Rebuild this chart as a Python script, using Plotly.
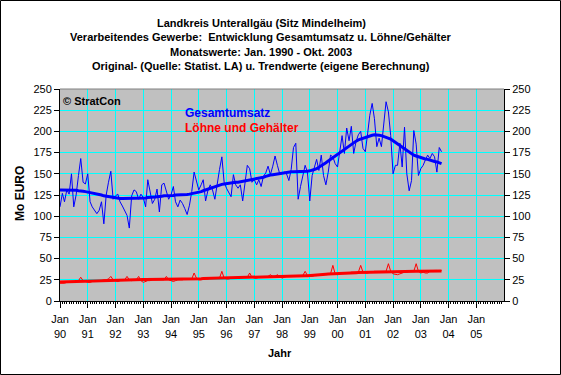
import pandas as pd
import plotly.graph_objects as go

# ---------------- data (Jan 1990 - Oct 2003, monthly) ----------------
start_month = "1990-01-01"

umsatz = [
    # 1990
    111, 127, 117, 131, 126, 150, 111, 125, 148, 168, 140, 138,
    # 1991
    150, 117, 111, 107, 103, 107, 117, 91, 125, 140, 153, 120,
    # 1992
    124, 126, 117, 112, 107, 101, 86, 124, 131, 129, 120, 126,
    # 1993
    122, 111, 143, 126, 115, 120, 132, 105, 137, 139, 129, 120,
    # 1994
    125, 135, 117, 111, 119, 115, 109, 102, 113, 129, 152, 141,
    # 1995
    131, 137, 143, 118, 130, 137, 131, 120, 140, 155, 170, 140,
    # 1996
    133, 128, 123, 149, 137, 133, 137, 118, 140, 160, 156, 140,
    # 1997
    143, 137, 143, 135, 147, 151, 159, 149, 159, 171, 160, 150,
    # 1998
    150, 152, 150, 142, 155, 181, 186, 120, 135, 146, 160, 152,
    # 1999
    118, 148, 157, 167, 154, 172, 148, 137, 152, 172, 170, 162,
    # 2000
    158, 180, 195, 174, 204, 189, 206, 174, 188, 196, 200, 180,
    # 2001
    176, 198, 219, 233, 215, 182, 192, 182, 209, 235, 223, 195,
    # 2002
    150, 160, 160, 186, 158, 205, 150, 130, 142, 201, 185, 148,
    # 2003
    156, 160, 166, 172, 168, 174, 170, 152, 181, 176,
]

umsatz_trend = [
    131, 131, 131, 131, 131, 131, 131, 130.5, 130, 130, 129.5, 129,
    128.5, 128, 127, 126.5, 126, 125.5, 125, 124, 123.5, 123, 122.5, 122,
    121.5, 121.5, 121, 121, 121, 121, 121, 121, 121, 121, 121, 121,
    121.5, 121.5, 122, 122, 122.5, 122.5, 123, 123, 123.5, 124, 124, 124.5,
    124.5, 124.5, 125, 125, 125, 125, 125, 125.5, 126, 126.5, 127, 127.5,
    128, 129, 130, 131, 132, 133, 134, 135, 136, 137, 137.5, 138,
    138.5, 139, 139, 139.5, 140, 140, 140.5, 141, 141.5, 142, 142.5, 143,
    143.5, 144, 145, 145.5, 146, 147, 148, 148.5, 149, 149.5, 150, 150.5,
    151, 151.5, 152, 152, 152.5, 152.5, 152.5, 152.5, 152.5, 152.5, 153, 153,
    153.5, 154, 155, 156, 157.5, 159, 161, 163, 165, 167, 169, 171,
    173, 175, 177, 179, 181, 183, 185, 187, 188.5, 190, 191, 192,
    193, 194, 195, 195.5, 196, 196, 195.5, 195, 194, 193, 192, 191,
    189, 187, 185, 183, 181, 179, 177, 175, 173, 172, 171, 170,
    169, 168, 167.5, 167, 166, 165, 164.5, 164, 163, 162,
]

loehne = [
    21, 21, 21, 22, 22, 23, 22, 23, 24, 28, 24, 23,
    22, 22, 23, 23, 24, 24, 24, 25, 25, 26, 29, 25,
    24, 23, 24, 25, 25, 29, 25, 24, 25, 25, 29, 24,
    22, 23, 24, 24, 25, 25, 25, 25, 25, 25, 29, 25,
    24, 23, 24, 25, 25, 25, 26, 26, 26, 26, 33, 27,
    25, 25, 26, 26, 26, 27, 27, 27, 27, 27, 35, 27,
    26, 26, 27, 27, 27, 28, 28, 28, 28, 28, 33, 28,
    27, 27, 28, 28, 28, 28, 29, 31, 29, 29, 31, 29,
    27, 28, 29, 29, 29, 29, 30, 30, 30, 30, 35, 30,
    29, 29, 30, 30, 31, 31, 31, 32, 32, 32, 42, 32,
    31, 32, 33, 33, 33, 33, 34, 34, 34, 34, 42, 34,
    33, 33, 34, 34, 35, 35, 35, 35, 35, 35, 44, 35,
    32, 31, 31, 32, 33, 34, 34, 35, 35, 35, 44, 35,
    33, 34, 33, 33, 35, 35, 36, 36, 35, 36,
]

loehne_trend = [
    22.4, 22.5, 22.6, 22.7, 22.8, 22.9, 23.0, 23.1, 23.2, 23.3, 23.4, 23.5,
    23.6, 23.7, 23.8, 23.9, 24.0, 24.2, 24.4, 24.5, 24.7, 24.8, 25.0, 25.1,
    25.2, 25.2, 25.3, 25.3, 25.3, 25.4, 25.4, 25.4, 25.5, 25.5, 25.5, 25.5,
    25.5, 25.5, 25.5, 25.5, 25.5, 25.5, 25.5, 25.5, 25.5, 25.5, 25.6, 25.6,
    25.6, 25.6, 25.6, 25.7, 25.7, 25.8, 25.8, 25.9, 25.9, 26.0, 26.0, 26.1,
    26.2, 26.3, 26.4, 26.5, 26.6, 26.7, 26.8, 26.9, 27.0, 27.1, 27.2, 27.4,
    27.6, 27.6, 27.7, 27.7, 27.8, 27.8, 27.9, 27.9, 28.0, 28.0, 28.1, 28.2,
    28.3, 28.3, 28.4, 28.4, 28.5, 28.5, 28.6, 28.6, 28.7, 28.8, 28.8, 28.9,
    29.0, 29.1, 29.2, 29.3, 29.4, 29.5, 29.5, 29.6, 29.7, 29.8, 29.9, 29.9,
    30.0, 30.2, 30.4, 30.6, 30.8, 31.0, 31.3, 31.5, 31.7, 31.9, 32.2, 32.4,
    32.6, 32.7, 32.8, 32.9, 33.0, 33.1, 33.2, 33.3, 33.4, 33.5, 33.6, 33.7,
    33.8, 33.9, 34.0, 34.1, 34.2, 34.3, 34.4, 34.5, 34.6, 34.7, 34.8, 34.9,
    35.0, 35.0, 35.0, 35.0, 35.0, 35.0, 35.0, 35.0, 35.0, 35.0, 35.1, 35.1,
    35.1, 35.2, 35.2, 35.2, 35.3, 35.3, 35.3, 35.4, 35.4, 35.4,
]

y_ticks = [0, 25, 50, 75, 100, 125, 150, 175, 200, 225, 250]

title_lines = [
    "Landkreis Unterallgäu (Sitz Mindelheim)",
    "Verarbeitendes Gewerbe:  Entwicklung Gesamtumsatz u. Löhne/Gehälter",
    "Monatswerte: Jan. 1990 - Okt. 2003",
    "Original- (Quelle: Statist. LA) u. Trendwerte (eigene Berechnung)",
]

# ---------------- figure ----------------
months = pd.date_range(start_month, periods=len(umsatz), freq="MS")

W, H = 561, 375
ML, MR, MT, MB = 60, 57, 89, 74
PW, PH = W - ML - MR, H - MT - MB

FONT = "Liberation Sans, Arial, sans-serif"
BLUE = "#0000FF"
RED = "#FF0000"

fig = go.Figure()
fig.add_trace(go.Scatter(x=months, y=loehne, mode="lines",
                         line=dict(color=RED, width=1), hoverinfo="skip"))
fig.add_trace(go.Scatter(x=months, y=loehne_trend, mode="lines",
                         line=dict(color=RED, width=3), hoverinfo="skip"))
fig.add_trace(go.Scatter(x=months, y=umsatz, mode="lines",
                         line=dict(color=BLUE, width=1), hoverinfo="skip"))
fig.add_trace(go.Scatter(x=months, y=umsatz_trend, mode="lines",
                         line=dict(color=BLUE, width=3), hoverinfo="skip"))
# invisible trace to carry the right-hand axis
fig.add_trace(go.Scatter(x=months[:1], y=[0], yaxis="y2", mode="markers",
                         marker=dict(opacity=0), hoverinfo="skip"))

def px_x(px):
    return (px - ML) / PW

def px_y(py):
    return (MT + PH - py) / PH

annotations = []
for i, (line, py) in enumerate(zip(title_lines, [22.7, 37.3, 51.7, 66.0])):
    annotations.append(dict(text=f"<b>{line}</b>", x=px_x(261), y=px_y(py),
                            xref="paper", yref="paper", xanchor="center",
                            yanchor="middle", showarrow=False,
                            font=dict(family=FONT, size=11, color="black")))
annotations += [
    dict(text="<b>Gesamtumsatz</b>", x=px_x(183), y=px_y(113), xref="paper",
         yref="paper", xanchor="left", yanchor="middle", showarrow=False,
         font=dict(family=FONT, size=12, color=BLUE)),
    dict(text="<b>Löhne und Gehälter</b>", x=px_x(183), y=px_y(127.7),
         xref="paper", yref="paper", xanchor="left", yanchor="middle",
         showarrow=False, font=dict(family=FONT, size=12, color=RED)),
    dict(text="<b>© StratCon</b>", x=px_x(61), y=px_y(101), xref="paper",
         yref="paper", xanchor="left", yanchor="middle", showarrow=False,
         font=dict(family=FONT, size=11, color="black")),
    dict(text="<b>Jahr</b>", x=px_x(280), y=px_y(353), xref="paper",
         yref="paper", xanchor="center", yanchor="middle", showarrow=False,
         font=dict(family=FONT, size=11, color="black")),
    dict(text="<b>Mo EURO</b>", x=px_x(20), y=px_y(194), xref="paper",
         yref="paper", xanchor="center", yanchor="middle", showarrow=False,
         textangle=-90, font=dict(family=FONT, size=12, color="black")),
]

shapes = [
    # outer frame
    dict(type="rect", xref="paper", yref="paper",
         x0=px_x(0.5), x1=px_x(W - 0.5), y0=px_y(H - 0.5), y1=px_y(0.5),
         line=dict(color="black", width=1), layer="below"),
    # top border of the plot area
    dict(type="line", xref="paper", yref="paper", x0=0, x1=1, y0=1, y1=1,
         line=dict(color="#808080", width=1)),
]

axis_font = dict(family=FONT, size=11, color="black")

fig.update_layout(
    width=W, height=H,
    margin=dict(l=ML, r=MR, t=MT, b=MB, pad=0, autoexpand=False),
    paper_bgcolor="white",
    plot_bgcolor="#C0C0C0",
    showlegend=False,
    annotations=annotations,
    shapes=shapes,
    xaxis=dict(
        type="date",
        range=["1990-01-01", "2005-12-31"],
        dtick="M12", tick0="1990-01-01",
        tickformat="%b<br>%y",
        ticks="outside", ticklen=6, tickcolor="black", tickwidth=1,
        ticklabelstandoff=2,
        showgrid=True, gridcolor="#00FFFF", gridwidth=1,
        showline=True, linecolor="black", linewidth=1,
        zeroline=False, automargin=False,
        tickfont=axis_font,
        minor=dict(dtick="M1", tick0="1990-01-01", ticks="outside",
                   ticklen=2, tickcolor="black", showgrid=False),
    ),
    yaxis=dict(
        range=[0, 250], tickvals=y_ticks,
        ticks="outside", ticklen=5, tickcolor="black",
        showgrid=True, gridcolor="#00FFFF", gridwidth=1,
        showline=True, linecolor="black", linewidth=1,
        zeroline=False, tickfont=axis_font, automargin=False,
    ),
    yaxis2=dict(
        range=[0, 250], tickvals=y_ticks, overlaying="y", side="right",
        ticks="outside", ticklen=5, tickcolor="black",
        showgrid=False, showline=True, linecolor="black", linewidth=1,
        zeroline=False, tickfont=axis_font, automargin=False,
    ),
)

fig.write_html(
    "out.html",
    config={"displayModeBar": False},
    post_script="document.body.style.margin='0';document.body.style.padding='0';",
)
